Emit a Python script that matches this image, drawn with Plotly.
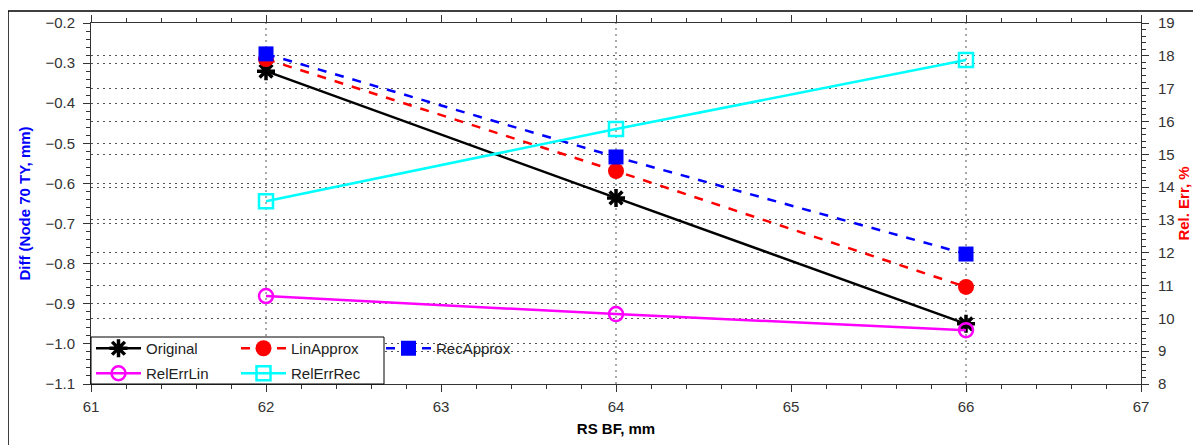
import plotly.graph_objects as go

# data
rs_bf = [62, 64, 66]
original = [-0.32, -0.636, -0.95]
lin_approx = [-0.29, -0.569, -0.858]
rec_approx = [-0.277, -0.534, -0.776]
rel_err_lin = [10.68, 10.13, 9.64]
rel_err_rec = [13.57, 15.77, 17.87]

FONT = "Liberation Sans, Arial, sans-serif"
OFF = 8  # page body margin of the browser
W, H = 1201 - OFF, 445 - OFF
L, R, T, B = 91 - OFF, 60, 23 - OFF, 61
PW, PH = W - L - R, H - T - B
GRID = "2px,4px"


def px_x(p):
    return (p - OFF - L) / PW


def px_y(p):
    return (H - B - (p - OFF)) / PH


fig = go.Figure()

fig.add_trace(go.Scatter(
    x=rs_bf, y=original, name="Original", mode="lines+markers", legend="legend",
    line=dict(color="black", width=2.5),
    marker=dict(symbol="asterisk-open", size=15, line=dict(color="black", width=3.5))))
fig.add_trace(go.Scatter(
    x=rs_bf, y=lin_approx, name="LinApprox", mode="lines+markers", legend="legend",
    line=dict(color="red", width=2.5, dash="dash"),
    marker=dict(symbol="circle", size=16, color="red")))
fig.add_trace(go.Scatter(
    x=rs_bf, y=rec_approx, name="RecApprox", mode="lines+markers", legend="legend",
    line=dict(color="blue", width=2.5, dash="dash"),
    marker=dict(symbol="square", size=15, color="blue")))
fig.add_trace(go.Scatter(
    x=rs_bf, y=rel_err_lin, name="RelErrLin", mode="lines+markers", yaxis="y2", legend="legend2",
    line=dict(color="magenta", width=2.5),
    marker=dict(symbol="circle-open", size=14, color="magenta", line=dict(width=2.5))))
fig.add_trace(go.Scatter(
    x=rs_bf, y=rel_err_rec, name="RelErrRec", mode="lines+markers", yaxis="y2", legend="legend2",
    line=dict(color="cyan", width=2.5),
    marker=dict(symbol="square-open", size=14, color="cyan", line=dict(width=2.5))))

# vertical dotted grid at the measured positions
for v in rs_bf:
    fig.add_shape(type="line", xref="x", yref="paper", x0=v, x1=v, y0=0, y1=1,
                  line=dict(color="#555", width=1, dash=GRID), layer="below")

# legend frame and outer frame
fig.add_shape(type="rect", xref="paper", yref="paper",
              x0=0, x1=px_x(384), y0=0, y1=px_y(337),
              line=dict(color="black", width=1), fillcolor="white", layer="above")
fig.add_shape(type="rect", xref="paper", yref="paper",
              x0=px_x(8), x1=px_x(1215), y0=px_y(460), y1=px_y(11),
              line=dict(color="black", width=1.5))

tickfont = dict(family=FONT, size=15, color="#333")
legfont = dict(family=FONT, size=15, color="#222")
fig.update_layout(
    width=W, height=H,
    margin=dict(l=L, r=R, t=T, b=B, autoexpand=False),
    plot_bgcolor="white", paper_bgcolor="white",
    font=dict(family=FONT),
    xaxis=dict(range=[61, 67], dtick=1, showgrid=False, zeroline=False, automargin=False,
               showline=True, linecolor="#333", mirror="ticks", ticks="outside", ticklen=7,
               tickcolor="#333", tickfont=tickfont, ticklabelstandoff=2,
               minor=dict(dtick=0.2, ticks="outside", ticklen=4, tickcolor="#333"),
               title=dict(text="<b>RS BF, mm</b>", font=dict(family=FONT, size=15, color="black"),
                          standoff=9)),
    yaxis=dict(range=[-1.1, -0.2], dtick=0.1, tickformat=".1f", zeroline=False, automargin=False,
               showgrid=True, gridcolor="#555", griddash=GRID, gridwidth=1,
               showline=True, linecolor="#333", ticks="outside", ticklen=7, tickcolor="#333",
               tickfont=tickfont, ticklabelstandoff=5,
               minor=dict(dtick=0.02, ticks="outside", ticklen=4, tickcolor="#333"),
               title=dict(text="<b>Diff (Node 70 TY, mm)</b>",
                          font=dict(family=FONT, size=15, color="blue"), standoff=11)),
    yaxis2=dict(range=[8, 19], dtick=1, overlaying="y", side="right", zeroline=False,
                automargin=False,
                showgrid=True, gridcolor="#555", griddash=GRID, gridwidth=1,
                showline=True, linecolor="#333", ticks="outside", ticklen=7, tickcolor="#333",
                tickfont=tickfont, ticklabelstandoff=6,
                minor=dict(dtick=0.2, ticks="outside", ticklen=4, tickcolor="#333"),
                title=dict(text="<b>Rel. Err, %</b>",
                           font=dict(family=FONT, size=15, color="red"), standoff=4)),
    legend=dict(orientation="h", x=0.0, y=px_y(332), xanchor="left", yanchor="top",
                bgcolor="rgba(0,0,0,0)", borderwidth=0, entrywidth=85, entrywidthmode="pixels",
                font=legfont, itemwidth=45),
    legend2=dict(orientation="h", x=0.0, y=px_y(357), xanchor="left", yanchor="top",
                 bgcolor="rgba(0,0,0,0)", borderwidth=0, entrywidth=85, entrywidthmode="pixels",
                 font=legfont, itemwidth=45),
    showlegend=True,
)

fig.write_html("out.html")
